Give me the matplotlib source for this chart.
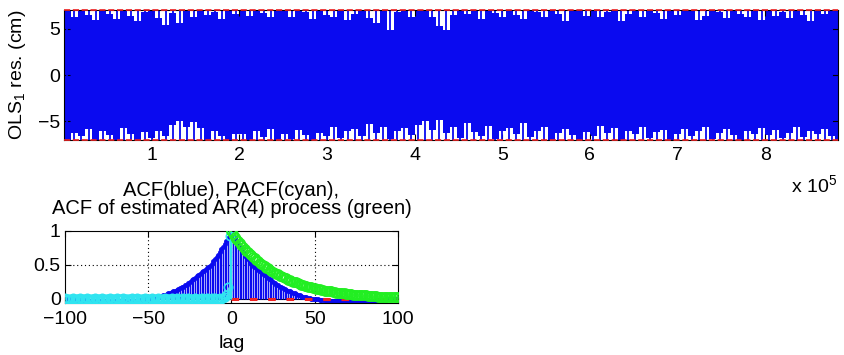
import numpy as np
import matplotlib
matplotlib.use("Agg")
import matplotlib.pyplot as plt

plt.rcParams['font.family'] = ['Liberation Sans', 'DejaVu Sans']
plt.rcParams['mathtext.fontset'] = 'custom'
plt.rcParams['mathtext.rm'] = 'Liberation Sans'
plt.rcParams['mathtext.it'] = 'Liberation Sans'
FS = 14
plt.rcParams['font.size'] = FS

# ---------------- data: top panel (residual envelope per 8000-sample bin) ----------------
bin_size = 8000
res_upper = [7.0, 6.2, 7.0, 6.5, 5.9, 7.0, 6.6, 6.0, 7.0, 6.4, 5.8, 6.8, 7.0,
             6.1, 5.4, 6.7, 5.6, 7.0, 6.3, 7.0, 6.5, 6.8, 6.0, 7.0, 6.6,
             7.0, 6.4, 7.0, 6.7, 6.2, 7.0, 6.9, 6.3, 7.0, 6.8, 6.0, 7.0, 6.5,
             6.2, 7.0, 5.9, 6.6, 7.0, 6.1, 5.6, 7.0, 4.8, 6.8, 7.0, 6.2,
             6.9, 7.0, 6.3, 5.3, 4.8, 6.5, 7.0, 6.6, 7.0, 6.0, 7.0, 6.7, 6.3,
             7.0, 6.5, 6.0, 7.0, 6.8, 6.3, 7.0, 6.6, 5.8, 7.0, 6.9, 6.4,
             7.0, 6.3, 6.8, 7.0, 5.8, 6.6, 7.0, 6.2, 7.0, 6.7, 6.0, 7.0, 6.5,
             6.9, 7.0, 5.9, 6.4, 7.0, 6.8, 6.1, 7.0, 6.6, 6.3, 7.0, 5.9,
             7.0, 6.4, 6.8, 6.1, 7.0, 6.5, 5.8, 7.0, 6.6, 6.9, 7.0]
res_lower = [-7.0, -6.2, -6.6, -5.8, -7.0, -6.0, -6.5, -7.0, -5.7, -6.3, -7.0, -6.1, -6.8,
             -6.0, -6.6, -5.4, -5.0, -5.6, -5.1, -5.7, -7.0, -6.0, -6.6, -7.0, -6.3,
             -6.4, -7.0, -6.0, -6.7, -5.8, -7.0, -6.3, -6.9, -5.9, -6.5, -7.0, -6.2, -6.6,
             -5.6, -6.8, -6.0, -5.8, -6.6, -5.3, -6.2, -5.6, -6.9, -6.0, -5.7, -6.5,
             -5.4, -4.9, -5.9, -4.8, -6.2, -5.6, -6.8, -5.2, -6.1, -6.6, -5.5, -6.9, -6.0,
             -5.7, -6.4, -5.2, -6.7, -6.0, -5.6, -7.0, -6.2, -5.8, -6.5, -7.0, -6.1,
             -6.6, -5.5, -6.2, -5.7, -7.0, -6.0, -6.4, -5.6, -6.8, -6.1, -5.9, -7.0, -6.3,
             -5.8, -6.6, -6.0, -5.6, -6.9, -6.2, -5.8, -6.5, -7.0, -6.0, -6.3, -5.7,
             -6.5, -5.9, -6.8, -6.2, -5.6, -6.7, -6.0, -6.4, -5.8, -6.6, -7.0]
n_samples = 883000
clip_level = 7.0
top_xticks = [1, 2, 3, 4, 5, 6, 7, 8]
top_yticks = [-5, 0, 5]

# ---------------- data: bottom panel (lags 0..100) ----------------
acf = [1.00, 0.93, 0.89, 0.85, 0.81, 0.77, 0.73, 0.69, 0.65, 0.61,
       0.58, 0.55, 0.52, 0.49, 0.47, 0.45, 0.43, 0.41, 0.39, 0.37,
       0.35, 0.33, 0.31, 0.29, 0.27, 0.25, 0.23, 0.21, 0.20, 0.18,
       0.17, 0.16, 0.14, 0.13, 0.12, 0.11, 0.10, 0.09, 0.08, 0.07,
       0.06, 0.05, 0.04, 0.03, 0.03, 0.02, 0.01, 0.01, 0.00, 0.00,
       -0.01, -0.01, -0.01, -0.02, -0.02, -0.02, -0.02, -0.03, -0.03, -0.03,
       -0.03, -0.03, -0.03, -0.04, -0.04, -0.04, -0.04, -0.04, -0.04, -0.04,
       -0.04, -0.04, -0.04, -0.04, -0.04, -0.04, -0.04, -0.04, -0.03, -0.03,
       -0.03, -0.03, -0.03, -0.03, -0.03, -0.03, -0.03, -0.02, -0.02, -0.02,
       -0.02, -0.02, -0.02, -0.02, -0.01, -0.01, -0.01, -0.01, -0.01, -0.01,
       -0.01]
pacf = [1.00, 0.93, 0.18, 0.05, 0.02, 0.01, -0.01, 0.01, 0.00, -0.01,
        0.01, 0.00, 0.01, -0.01, 0.00, 0.01, -0.01, 0.00, 0.01, 0.00,
        -0.01, 0.00, 0.01, -0.01, 0.00, 0.00, 0.01, -0.01, 0.00, 0.01,
        0.00, -0.01, 0.00, 0.01, 0.00, -0.01, 0.01, 0.00, 0.00, -0.01,
        0.01, 0.00, -0.01, 0.00, 0.01, 0.00, -0.01, 0.00, 0.01, 0.00,
        -0.01, 0.00, 0.01, 0.00, -0.01, 0.00, 0.00, 0.01, -0.01, 0.00,
        0.01, 0.00, -0.01, 0.00, 0.00, 0.01, 0.00, -0.01, 0.00, 0.01,
        0.00, -0.01, 0.00, 0.01, 0.00, 0.00, -0.01, 0.00, 0.01, 0.00,
        -0.01, 0.00, 0.01, 0.00, -0.01, 0.00, 0.00, 0.01, 0.00, -0.01,
        0.00, 0.01, 0.00, -0.01, 0.00, 0.01, 0.00, 0.00, -0.01, 0.00,
        0.01]
ar4_acf = [1.00, 0.95, 0.91, 0.88, 0.85, 0.82, 0.79, 0.76, 0.73, 0.71,
           0.69, 0.66, 0.64, 0.62, 0.60, 0.57, 0.55, 0.53, 0.51, 0.50,
           0.48, 0.46, 0.45, 0.43, 0.41, 0.40, 0.38, 0.37, 0.36, 0.34,
           0.33, 0.32, 0.31, 0.30, 0.28, 0.27, 0.26, 0.25, 0.24, 0.24,
           0.23, 0.22, 0.21, 0.20, 0.19, 0.19, 0.18, 0.17, 0.17, 0.16,
           0.16, 0.15, 0.14, 0.14, 0.13, 0.13, 0.12, 0.12, 0.11, 0.11,
           0.11, 0.10, 0.10, 0.09, 0.09, 0.09, 0.08, 0.08, 0.08, 0.07,
           0.07, 0.07, 0.07, 0.06, 0.06, 0.06, 0.06, 0.05, 0.05, 0.05,
           0.05, 0.05, 0.04, 0.04, 0.04, 0.04, 0.04, 0.04, 0.03, 0.03,
           0.03, 0.03, 0.03, 0.03, 0.03, 0.03, 0.02, 0.02, 0.02, 0.02,
           0.02]
max_lag = 100
bot_xticks = [-100, -50, 0, 50, 100]
bot_yticks = [0, 0.5, 1]

BLUE = '#0a0af0'
CYAN = '#30e4f0'
GREEN = '#22ee22'
RED = '#ee2222'

fig = plt.figure(figsize=(8.45, 3.55), dpi=100)

# ---------------- top panel ----------------
ax1 = fig.add_axes([0.0757, 0.6056, 0.9160, 0.3662])
edges = np.arange(len(res_upper) + 1) * bin_size
up = np.append(res_upper, res_upper[-1])
lo = np.append(res_lower, res_lower[-1])
ax1.fill_between(edges, lo, up, step='post', color=BLUE, lw=0)
# residuals are clipped at +/- clip_level: every bin reaches the clip level
centres = edges[:-1] + bin_size / 2
ax1.vlines(centres, -clip_level, clip_level, color=BLUE, lw=1.3)
ax1.axhline(clip_level, color=RED, ls='--', lw=1.2, clip_on=False, zorder=5)
ax1.axhline(-clip_level, color=RED, ls='--', lw=1.2, clip_on=False, zorder=5)
ax1.set_xlim(0, n_samples)
ax1.set_ylim(-clip_level, clip_level)
ax1.set_xticks([t * 1e5 for t in top_xticks])
ax1.set_xticklabels([str(t) for t in top_xticks])
ax1.set_yticks(top_yticks)
ax1.set_yticklabels(['\u22125', '0', '5'])
ax1.set_ylabel('OLS$_1$ res. (cm)', labelpad=7)
fig.text(0.936, 0.478, 'x 10$^5$', ha='left', va='center', fontsize=FS)

# ---------------- bottom panel ----------------
ax2 = fig.add_axes([0.0769, 0.1465, 0.3941, 0.2028])
lags = np.arange(0, max_lag + 1)
acf_arr = np.array(acf)
x_acf = np.concatenate([-lags[::-1], lags[1:]])
y_acf = np.concatenate([acf_arr[::-1], acf_arr[1:]])
ax2.vlines(x_acf, 0, y_acf, color=BLUE, lw=1.0, zorder=2)
ax2.plot(x_acf, y_acf, '.', color=BLUE, ms=5, zorder=2)
ax2.axhline(0, color='black', lw=0.8, zorder=1.5)
ax2.plot([0, max_lag], [0, 0], color=RED, ls=(0, (2.5, 3.5)), lw=2.2, zorder=3)
ax2.vlines(-lags, 0, pacf, color=CYAN, lw=1.0, zorder=4)
ax2.plot(-lags, pacf, 'o', mfc='none', mec=CYAN, ms=6, mew=1.2, zorder=4)
ax2.plot(lags, ar4_acf, 'o', mfc='none', mec=GREEN, ms=6.5, mew=1.2, zorder=5)

ax2.set_xlim(-max_lag, max_lag)
ax2.set_ylim(-0.063, 1)
ax2.set_xticks(bot_xticks)
ax2.set_xticklabels(['\u2212100', '\u221250', '0', '50', '100'])
ax2.set_yticks(bot_yticks)
ax2.set_yticklabels(['0', '0.5', '1'])
for xv in [-50, 0, 50]:
    ax2.axvline(xv, color='black', ls=(0, (1, 2.5)), lw=0.8, zorder=1)
ax2.axhline(0.5, color='black', ls=(0, (1, 2.5)), lw=0.8, zorder=1)
ax2.set_xlabel('lag', labelpad=5)
ax2.set_title('ACF(blue), PACF(cyan),\nACF of estimated AR(4) process (green)',
              fontsize=14.5, linespacing=0.98, pad=12)

for ax in (ax1, ax2):
    ax.tick_params(direction='in', top=True, right=True, length=4, width=0.8,
                   labelsize=FS)
    ax.tick_params(axis='y', pad=3)
ax1.tick_params(axis='x', pad=5)
ax2.tick_params(axis='x', pad=6)
for ax in (ax1, ax2):
    for s in ax.spines.values():
        s.set_linewidth(0.8)

fig.savefig('out.png', dpi=100)
